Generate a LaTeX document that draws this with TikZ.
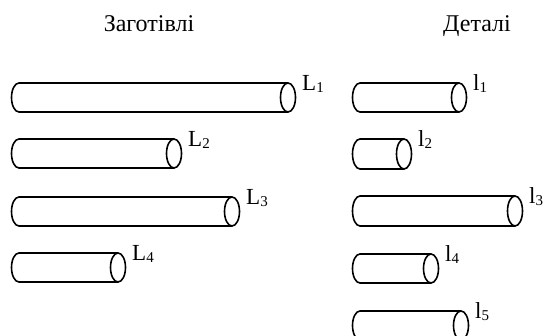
\documentclass[tikz,border=0pt]{standalone}
\usepackage{fontspec}
\setmainfont{Liberation Serif}
\tikzset{
  cylline/.style={draw=black, line width=1.6pt, fill=white},
  title/.style={font=\fontsize{24}{28}\selectfont, inner sep=0pt},
  lbl/.style={font=\fontsize{23}{26}\selectfont, inner sep=0pt, anchor=base west},
}
\newcommand{\mysub}[2]{#1\raisebox{-1.5pt}{\fontsize{15}{15}\selectfont #2}}
% \mycyl{name}{xl}{xr}{yt}{yb}{letter}{index}
\newcommand{\mycyl}[7]{%
  \path[cylline] (#3,#4) -- (#2,#4) arc[start angle=270, end angle=90, x radius=7.5, y radius={(#5-#4)/2}] -- (#3,#5);
  \draw[cylline] ({#3},{(#4+#5)/2}) ellipse [x radius=7.5, y radius={(#5-#4)/2}];
  \node[lbl] (#1-label) at ({#3+14},{#4+8}) {\mysub{#6}{#7}};
}
\begin{document}
\begin{tikzpicture}[x=1pt, y=-1pt]
\useasboundingbox[fill=white] (0,0) rectangle (544,336);
\node[title, anchor=base] (zag) at (149,32) {Заготівлі};
\node[title, anchor=base] (det) at (477,32) {Деталі};
\mycyl{L1}{19}{288}{83}{112}{L}{1}
\mycyl{L2}{19}{174}{139}{168}{L}{2}
\mycyl{L3}{19}{232}{197}{226}{L}{3}
\mycyl{L4}{19}{118}{253}{282}{L}{4}
\mycyl{l1}{360}{459}{83}{112}{l}{1}
\mycyl{l2}{360}{404}{139}{169}{l}{2}
\mycyl{l3}{360}{515}{196}{226}{l}{3}
\mycyl{l4}{360}{431}{254}{283}{l}{4}
\mycyl{l5}{360}{461}{311}{340}{l}{5}
\end{tikzpicture}
\end{document}
